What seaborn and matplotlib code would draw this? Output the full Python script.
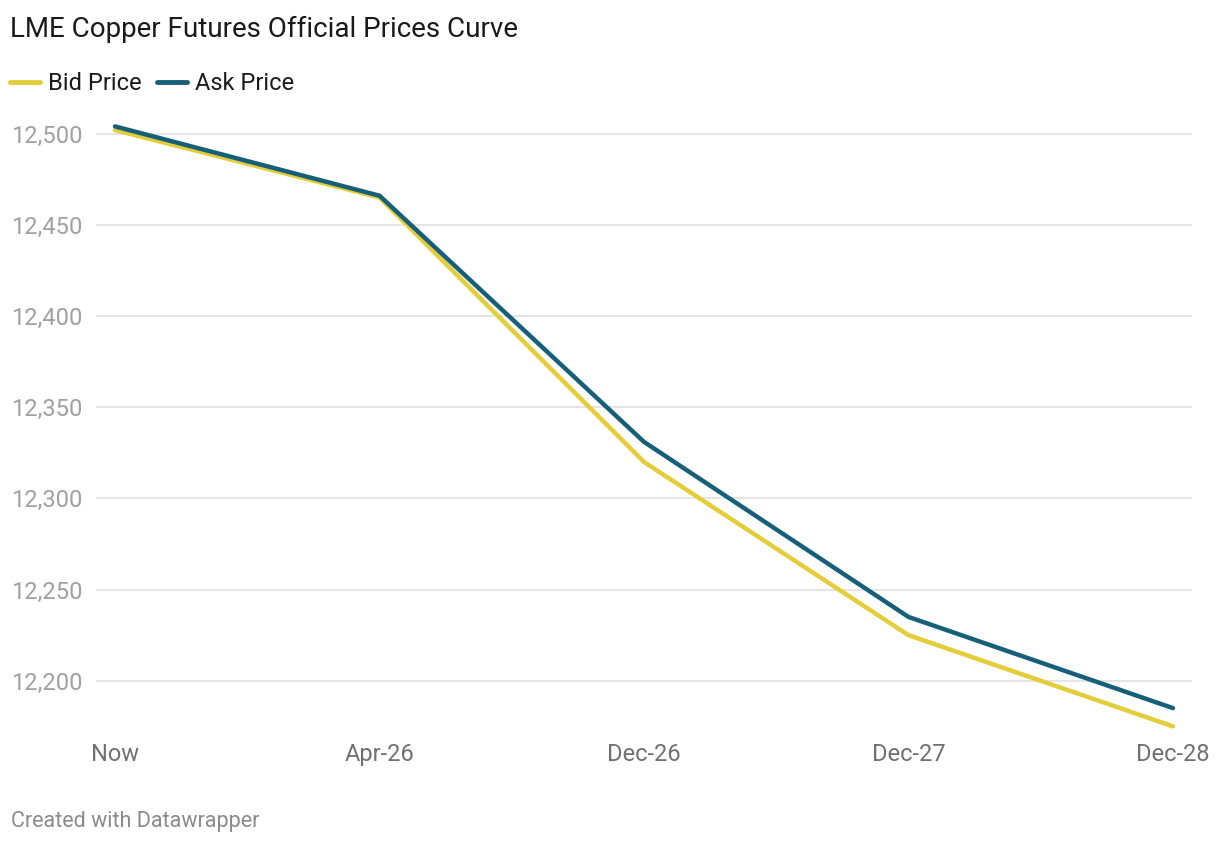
import matplotlib.pyplot as plt
import pandas as pd
import seaborn as sns

# values
tenors = ["Now", "Apr-26", "Dec-26", "Dec-27", "Dec-28"]
bid_price = [12502, 12465, 12320, 12225, 12175]
ask_price = [12504, 12466, 12331, 12235, 12185]
y_ticks = [12200, 12250, 12300, 12350, 12400, 12450, 12500]

bid_color = "#e3cd38"
ask_color = "#165f78"

df = pd.DataFrame({
    "tenor": tenors * 2,
    "price": bid_price + ask_price,
    "series": ["Bid Price"] * len(tenors) + ["Ask Price"] * len(tenors),
})

sns.set_theme(style="white")
plt.rcParams["font.family"] = ["Roboto", "DejaVu Sans"]

fig = plt.figure(figsize=(12.2, 8.42), dpi=100)
ax = fig.add_axes([96 / 1220, 1 - 730 / 842, 1096 / 1220, 620 / 842])

sns.lineplot(data=df, x="tenor", y="price", hue="series",
             palette={"Bid Price": bid_color, "Ask Price": ask_color},
             linewidth=3.2, sort=False, ax=ax, legend=False)

ax.set_xlim(-0.072, 4.072)
ax.set_ylim(12173, 12513)
ax.set_yticks(y_ticks)
ax.set_yticklabels([f"{v:,}" for v in y_ticks])
ax.grid(axis="y", color="#e3e3e3", linewidth=1.3)
ax.grid(axis="x", visible=False)
for s in ax.spines.values():
    s.set_visible(False)
ax.tick_params(axis="y", length=0, pad=10, labelsize=17, labelcolor="#a0a0a0")
ax.tick_params(axis="x", length=0, pad=9.5, labelsize=17, labelcolor="#707070")
ax.set_xlabel("")
ax.set_ylabel("")

fig.text(10 / 1220, 1 - 29 / 842, "LME Copper Futures Official Prices Curve",
         fontsize=20, color="#1a1a1a", va="center", ha="left")

# legend drawn by hand, datawrapper style
for x0, label, col in [(10, "Bid Price", bid_color), (157, "Ask Price", ask_color)]:
    fig.add_artist(plt.Line2D([x0 / 1220, (x0 + 30) / 1220],
                              [1 - 82 / 842, 1 - 82 / 842],
                              color=col, linewidth=3.5, solid_capstyle="round"))
    fig.text((x0 + 38) / 1220, 1 - 84 / 842, label, fontsize=17,
             color="#1a1a1a", va="center", ha="left")

fig.text(11 / 1220, 1 - 821 / 842, "Created with Datawrapper",
         fontsize=15.5, color="#8a8a8a", va="center", ha="left")

fig.savefig("out.png", dpi=100)
